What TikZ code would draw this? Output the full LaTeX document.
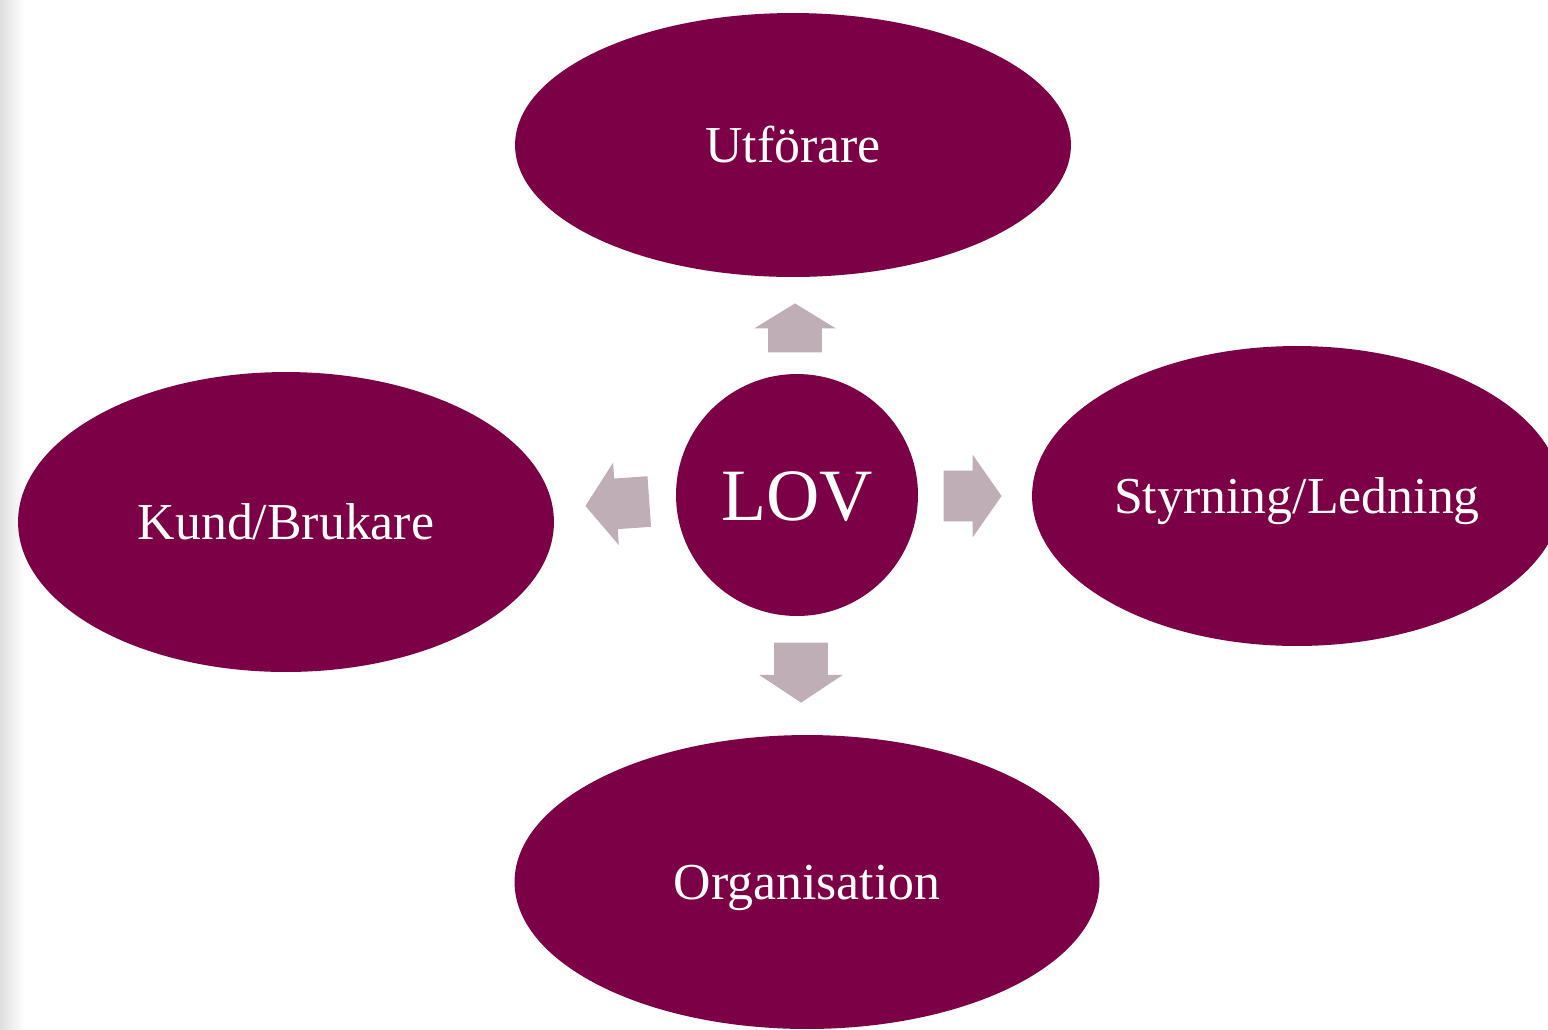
\documentclass[tikz,border=0pt]{standalone}
\usepackage{fontspec}
\setmainfont{Liberation Serif}
\usetikzlibrary{shapes.geometric, shapes.arrows}

\definecolor{lovred}{RGB}{123,0,70}
\definecolor{lovgray}{RGB}{191,174,181}

\begin{document}
\begin{tikzpicture}[
    x=0.02cm, y=-0.02cm,
    area/.style={ellipse, inner sep=0pt, text height=0.76cm, text depth=0.08cm, fill=lovred, text=white, font=\fontsize{29.5}{35}\selectfont},
    hub/.style={circle, inner sep=0pt, text height=1cm, text depth=0cm, minimum size=4.84cm, fill=lovred, text=white, font=\fontsize{42}{50}\selectfont},
    pointer/.style={single arrow, fill=lovgray, inner xsep=0pt, minimum width=0pt, anchor=tip}
]
\useasboundingbox (0,0) rectangle (1548,1029);
\clip (0,0) rectangle (1548,1029);

% page edge
\shade[left color=black!13, right color=white] (0,0) rectangle (24,1029);

% LOV in the middle
\node[hub] (lov) at (797,495) {LOV};

% Areas
\node[area, minimum width=11.12cm, minimum height=5.28cm] (utf) at (793,145) {Utförare};
\node[area, minimum width=10.72cm, minimum height=6cm] (kund) at (286,522) {Kund/Brukare};
\node[area, minimum width=10.6cm, minimum height=6cm] (styr) at (1297,496) {Styrning/Ledning};
\node[area, minimum width=11.7cm, minimum height=5.88cm] (org) at (807,882) {Organisation};

% Arrows
\node[pointer, rotate=90, inner ysep=0.53cm, single arrow head extend=0.28cm, single arrow tip angle=117, minimum height=0.98cm] (toutf) at (795,303) {};
\node[pointer, rotate=0, inner ysep=0.5cm, single arrow head extend=0.32cm, single arrow tip angle=110, minimum height=1.16cm] (tostyr) at (1002,496) {};
\node[pointer, rotate=-90, inner ysep=0.53cm, single arrow head extend=0.3cm, single arrow tip angle=113, minimum height=1.2cm] (toorg) at (801,703) {};
\node[pointer, rotate=184, inner ysep=0.5cm, single arrow head extend=0.32cm, single arrow tip angle=107, minimum height=1.28cm] (tokund) at (585,506) {};

\end{tikzpicture}
\end{document}
